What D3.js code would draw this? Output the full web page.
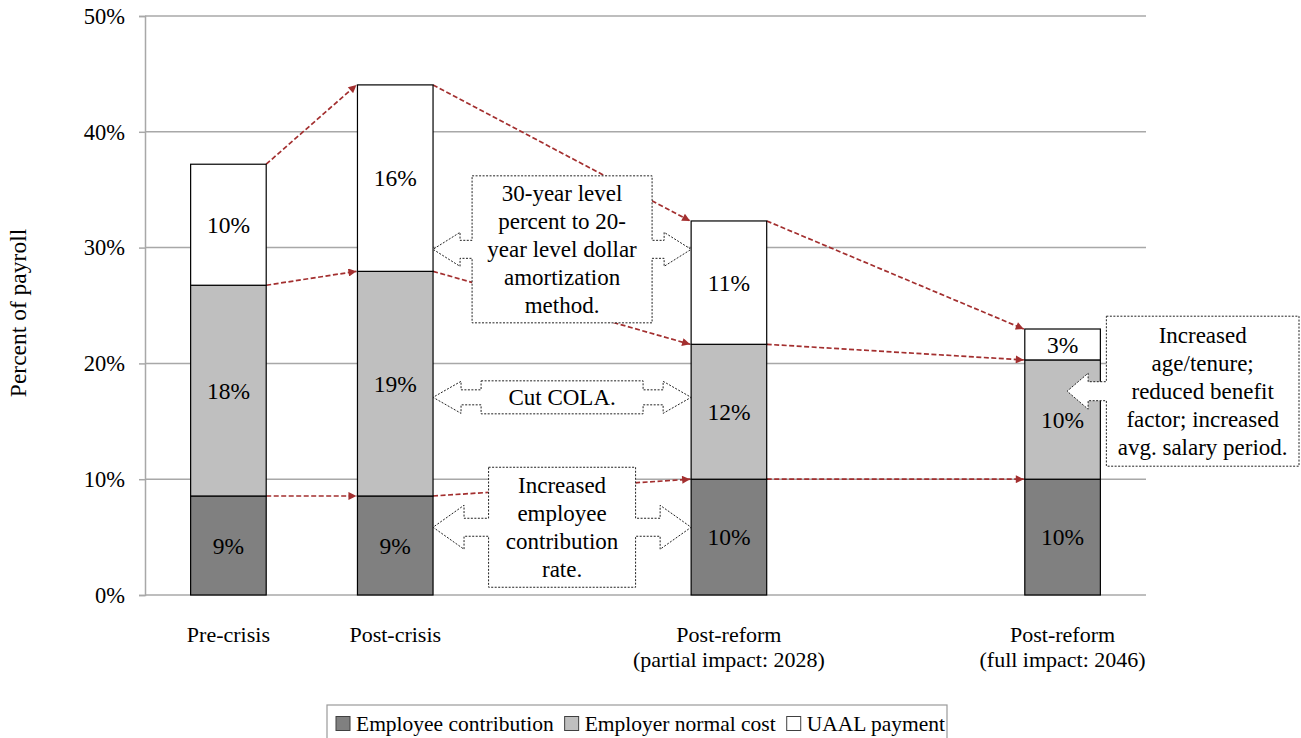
<!DOCTYPE html>
<html><head><meta charset="utf-8">
<script src="https://cdn.jsdelivr.net/npm/d3@7"></script>
<style>
body{margin:0;background:#fff}
svg{display:block}
text{font-family:"Liberation Serif","Times New Roman",serif;fill:#000}
</style>
</head><body>
<svg id="c" width="1301" height="738"></svg>
<script>
// ---------- data ----------
const categories = ["Pre-crisis", "Post-crisis", "", "Post-reform|(partial impact: 2028)", "", "Post-reform|(full impact: 2046)"];
const employeeContribution = [8.55, 8.55, null, 10.0, null, 10.0];
const employerNormalCost   = [18.2, 19.4, null, 11.65, null, 10.3];
const uaalPayment          = [10.45, 16.1, null, 10.65, null, 2.67];
const seriesNames = ["Employee contribution", "Employer normal cost", "UAAL payment"];
const yTicks = [0, 10, 20, 30, 40, 50];

const calloutTexts = [
  ["30-year level", "percent to 20-", "year level dollar", "amortization", "method."],
  ["Cut COLA."],
  ["Increased", "employee", "contribution", "rate."],
  ["Increased", "age/tenure;", "reduced benefit", "factor; increased", "avg. salary period."]
];
const calloutValues = [29.85, 17.07, 5.85, 17.6];

// ---------- setup ----------
const svg = d3.select("#c");
const M = {left:145, right:1146, top:16, bottom:595};
const colors = ["#808080", "#BFBFBF", "#FFFFFF"];
const red = "#A32F2F";

const x = d3.scaleBand().domain(d3.range(categories.length))
  .range([M.left, M.right]).paddingInner(0.547).paddingOuter(0.2735);
const bw = x.bandwidth();
const y = d3.scaleLinear().domain([0, 50]).range([M.bottom, M.top]);

// gridlines
svg.append("g").selectAll("line").data(yTicks).join("line")
  .attr("x1", M.left).attr("x2", M.right)
  .attr("y1", d => y(d)).attr("y2", d => y(d))
  .attr("stroke", "#A8A8A8").attr("stroke-width", 1.5);

// y axis
const yAxis = svg.append("g").attr("transform", `translate(${M.left},0)`)
  .call(d3.axisLeft(y).tickValues(yTicks).tickFormat(d => d + "%").tickSize(6).tickPadding(14));
yAxis.select(".domain").attr("stroke", "#A8A8A8").attr("stroke-width", 1.5);
yAxis.selectAll(".tick line").attr("stroke", "#A8A8A8").attr("stroke-width", 1.5);
yAxis.selectAll(".tick text").style("font-family", '"Liberation Serif",serif').style("font-size", "22.5px").attr("fill", "#000");

// axis title
svg.append("text").attr("transform", "translate(26,313) rotate(-90)")
  .attr("text-anchor", "middle").style("font-size", "23.5px").text("Percent of payroll");

// stack data
const series = [employeeContribution, employerNormalCost, uaalPayment];
const idx = d3.range(categories.length).filter(i => employeeContribution[i] != null);
const stacked = idx.map(i => {
  let c = 0;
  return series.map((s, k) => { const y0 = c; c += s[i]; return {i, k, y0, y1: c, v: s[i]}; });
});

// red dashed connectors
const defs = svg.append("defs");
defs.append("marker").attr("id", "ah").attr("viewBox", "0 0 10 10")
  .attr("refX", 10).attr("refY", 5).attr("markerWidth", 9).attr("markerHeight", 8)
  .attr("markerUnits", "userSpaceOnUse").attr("orient", "auto")
  .append("path").attr("d", "M0,0 L10,5 L0,10 Z").attr("fill", red);

const links = [];
for (let a = 0; a < stacked.length - 1; a++) {
  for (let k = 0; k < 3; k++) {
    links.push({x1: x(stacked[a][k].i) + bw, y1: y(stacked[a][k].y1),
                x2: x(stacked[a+1][k].i), y2: y(stacked[a+1][k].y1)});
  }
}
svg.append("g").selectAll("line").data(links).join("line")
  .attr("x1", d => d.x1).attr("y1", d => d.y1).attr("x2", d => d.x2 - 1).attr("y2", d => d.y2)
  .attr("stroke", red).attr("stroke-width", 1.7).attr("stroke-dasharray", "5,2.5")
  .attr("marker-end", "url(#ah)");

// bars
const gb = svg.append("g");
stacked.forEach(col => {
  gb.selectAll(null).data(col).join("rect")
    .attr("x", d => x(d.i)).attr("width", bw)
    .attr("y", d => y(d.y1)).attr("height", d => y(d.y0) - y(d.y1))
    .attr("fill", d => colors[d.k]).attr("stroke", "#000").attr("stroke-width", 1.2);
  gb.selectAll(null).data(col).join("text")
    .attr("x", d => x(d.i) + bw / 2).attr("y", d => (y(d.y0) + y(d.y1)) / 2)
    .attr("dy", "0.35em").attr("text-anchor", "middle").style("font-size", "23.5px")
    .text(d => d3.format(".0f")(d.v) + "%");
});

// category labels
idx.forEach(i => {
  const lines = categories[i].split("|");
  const t = svg.append("text").attr("text-anchor", "middle").style("font-size", "22px");
  lines.forEach((l, j) => t.append("tspan").attr("x", x(i) + bw / 2).attr("y", 642 + j * 24.5).text(l));
});

// callouts
function doubleArrow(bx0, bx1, by0, by1, cy, tx0, tx1, hl, hh, sh) {
  const hx0 = tx0 + hl, hx1 = tx1 - hl;
  return `M${bx0},${by0}H${bx1}V${cy-sh}H${hx1}V${cy-hh}L${tx1},${cy}L${hx1},${cy+hh}V${cy+sh}H${bx1}V${by1}H${bx0}V${cy+sh}H${hx0}V${cy+hh}L${tx0},${cy}L${hx0},${cy-hh}V${cy-sh}H${bx0}Z`;
}
function leftArrow(bx0, bx1, by0, by1, cy, tx0, hl, hh, sh) {
  const hx0 = tx0 + hl;
  return `M${bx0},${by0}H${bx1}V${by1}H${bx0}V${cy+sh}H${hx0}V${cy+hh}L${tx0},${cy}L${hx0},${cy-hh}V${cy-sh}H${bx0}Z`;
}
const gc = svg.append("g");
const tipL = x(1) + bw, tipR = x(3);
const mid = (tipL + tipR) / 2;
const boxHalfW = [90, 81, 73.5];
const boxH = [147, 33, 120];
const headL = [27, 28, 31];
const headH = [17, 16, 22];
const shaftH = [9, 7.5, 9];
function drawText(lines, cx, cy) {
  const lh = 28;
  const t = gc.append("text").attr("text-anchor", "middle").style("font-size", "23px");
  lines.forEach((l, j) => t.append("tspan").attr("x", cx)
    .attr("y", cy + (j - (lines.length - 1) / 2) * lh).attr("dy", "0.35em").text(l));
}
for (let c = 0; c < 3; c++) {
  const cy = y(calloutValues[c]);
  gc.append("path")
    .attr("d", doubleArrow(mid - boxHalfW[c], mid + boxHalfW[c], cy - boxH[c] / 2, cy + boxH[c] / 2, cy,
                           tipL, tipR, headL[c], headH[c], shaftH[c]))
    .attr("fill", "#fff").attr("stroke", "#222").attr("stroke-width", 1).attr("stroke-dasharray", "2,1.5");
  drawText(calloutTexts[c], mid, cy);
}
{
  const cy = y(calloutValues[3]);
  const tip = x(5) + bw * 0.56, bx0 = x(5) + bw + 6, bx1 = 1299;
  gc.append("path")
    .attr("d", leftArrow(bx0, bx1, cy - 75, cy + 75, cy, tip, 21, 18, 9.5))
    .attr("fill", "#fff").attr("stroke", "#222").attr("stroke-width", 1).attr("stroke-dasharray", "2,1.5");
  drawText(calloutTexts[3], (bx0 + bx1) / 2, cy);
}

// legend
const lg = svg.append("g");
const lgBox = lg.append("rect").attr("fill", "#fff").attr("stroke", "#9A9A9A").attr("stroke-width", 1.2);
let cx = 336;
const ly = 723;
seriesNames.forEach((n, k) => {
  lg.append("rect").attr("x", cx).attr("y", ly - 6.5).attr("width", 14).attr("height", 14)
    .attr("fill", colors[k]).attr("stroke", "#404040").attr("stroke-width", 1);
  const t = lg.append("text").attr("x", cx + 20).attr("y", ly).attr("dy", "0.35em")
    .style("font-size", "21.5px").text(n);
  cx += 20 + t.node().getComputedTextLength() + 11;
});
lgBox.attr("x", 327).attr("y", 705).attr("width", 620).attr("height", 40);
</script>
</body></html>
